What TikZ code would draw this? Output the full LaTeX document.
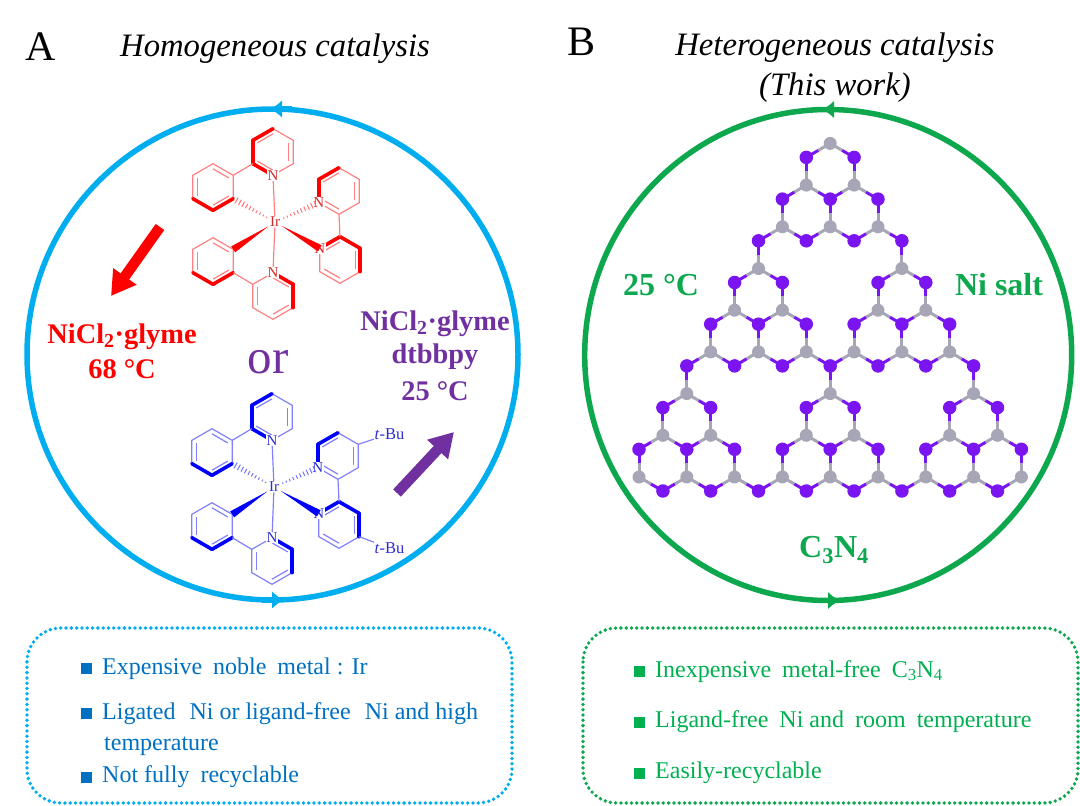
\documentclass[tikz,border=0pt]{standalone}
\usepackage{fontspec}
\setmainfont{Liberation Serif}
\usepackage{xcolor}
\usetikzlibrary{calc,arrows.meta,backgrounds}

\definecolor{ringblue}{HTML}{00AEEF}
\definecolor{ringgreen}{HTML}{0DA84E}
\definecolor{tipblue}{HTML}{0070C0}
\definecolor{tipgreen}{HTML}{00B050}
\definecolor{plum}{HTML}{7030A0}
\definecolor{catomgrey}{HTML}{A6A6B6}
\definecolor{natompurple}{HTML}{7A14F0}

\tikzset{
  bigring/.style={line width=5.5pt},
  ringtip/.style={line width=5.5pt,-{Latex[length=12pt,width=18pt]}},
  bigarrow/.style={line width=10.5pt,-{Triangle[length=24pt,width=27pt]}},
  tipbox/.style={line width=3.8pt,dash pattern=on 0pt off 5.3pt,line cap=round,rounded corners=34pt},
  tiptext/.style={anchor=base west,inner sep=0pt,font=\fontsize{24}{24}\selectfont},
  tipmark/.style={inner sep=0pt,minimum size=11pt},
  boldtext/.style={anchor=base,inner sep=0pt,font=\fontsize{28.4}{28.4}\selectfont\bfseries},
  greentext/.style={anchor=base,inner sep=0pt,text=ringgreen,font=\fontsize{32}{32}\selectfont\bfseries},
  titletext/.style={font=\fontsize{32.7}{32.7}\selectfont\itshape},
  lettertext/.style={font=\fontsize{42}{42}\selectfont},
  molline/.style={draw=mol!50,line width=1.2pt},
  molbold/.style={draw=mol,line width=3.6pt,line cap=round},
  molhash/.style={draw=mol!55,line width=1pt},
  mollabel/.style={fill=white,inner sep=.4pt,text=mol!65!gray,font=\fontsize{15}{15}\selectfont},
  catom/.style={circle,fill=catomgrey,inner sep=0pt,minimum size=13pt},
  natom/.style={circle,fill=natompurple,inner sep=0pt,minimum size=13.5pt},
  cbond/.style={draw=catomgrey,line width=3pt},
  nbond/.style={draw=natompurple,line width=3pt}
}

\newcommand{\hexring}[4]{
  \coordinate(#1) at #2;
  \coordinate(#1-1) at ($(#1)+(0,-23.3)$);
  \coordinate(#1-2) at ($(#1)+(20.2,-11.65)$);
  \coordinate(#1-3) at ($(#1)+(20.2,11.65)$);
  \coordinate(#1-4) at ($(#1)+(0,23.3)$);
  \coordinate(#1-5) at ($(#1)+(-20.2,11.65)$);
  \coordinate(#1-6) at ($(#1)+(-20.2,-11.65)$);
  \draw[molline] (#1-1) -- (#1-2) -- (#1-3) -- (#1-4) -- (#1-5) -- (#1-6) -- cycle;
  \foreach \a/\b in {#3} {
    \draw[molline] ($(#1)!.78!(#1-\a)$) -- ($(#1)!.78!(#1-\b)$);
  }
  \foreach \a/\b in {#4} {
    \draw[molbold] (#1-\a) -- (#1-\b);
  }
}
\newcommand{\wedgebond}[2]{
  \fill[mol] ($(#1)!8pt!(#2)$) -- ($(#2)!3.6pt!90:(#1)$) -- ($(#2)!3.6pt!-90:(#1)$) -- cycle;
}
\newcommand{\hashbond}[2]{
  \foreach \t in {.2,.28,...,.96} {
    \draw[molhash] ($(#1)!\t!(#2)!\t*3.6pt!90:(#2)$) -- ($(#1)!\t!(#2)!\t*3.6pt!-90:(#2)$);
  }
}
\newcommand{\ircomplex}[1]{
  \hexring{#1A}{(-2,-70)}{6/1,2/3,5/4}{5/6,6/1,5/4}
  \hexring{#1B}{(-62,-35)}{5/6,1/2,3/4}{5/4,4/3}
  \hexring{#1C}{(-62,39)}{5/6,1/2,3/4}{5/4,4/3}
  \hexring{#1D}{(-2,74)}{5/6,3/4,1/2}{1/2,2/3}
  \hexring{#1E}{(64,-31)}{6/1,2/3,4/5}{5/6,6/1}
  \hexring{#1F}{(65,38)}{6/1,2/3,4/5}{6/1,1/2,2/3}
  \draw[molline] (#1A-5) -- (#1B-2);
  \draw[molline] (#1C-3) -- (#1D-6);
  \draw[molline] (#1E-4) -- (#1F-1);
  \node[mollabel] (#1Ir) at (0,0) {Ir};
  \node[mollabel] (#1Na) at (#1A-4) {N};
  \node[mollabel] (#1Nd) at (#1D-1) {N};
  \node[mollabel] (#1Ne) at (#1E-5) {N};
  \node[mollabel] (#1Nf) at (#1F-6) {N};
  \draw[molline] (#1Ir) -- (#1Na);
  \draw[molline] (#1Ir) -- (#1Nd);
  \hashbond{#1Ir}{#1B-3}
  \hashbond{#1Ir}{#1Ne}
  \wedgebond{#1Ir}{#1C-2}
  \wedgebond{#1Ir}{#1Nf}
}
\newcommand{\halfbond}[2]{
  \ifcsname pgf@sh@ns@#2\endcsname
    \draw[cbond] (#1.center) -- ($(#1.center)!.5!(#2.center)$);
    \draw[nbond] (#2.center) -- ($(#1.center)!.5!(#2.center)$);
  \fi
}
\newcommand{\wgap}{\hspace{5pt}}
\newcommand{\widegap}{\hspace{8pt}}

\begin{document}
\begin{tikzpicture}[x=1pt,y=-1pt]

        \useasboundingbox (0,0) rectangle (1080,806);

        \coordinate(ringA) at (272.5,354.5);
        \coordinate(ringB) at (828.2,355);
        \draw[bigring,ringblue] (ringA) circle (245.5);
        \draw[bigring,ringgreen] (ringB) ellipse [x radius=243.5,y radius=245.5];

        \coordinate(topAr) at (292,109);
        \coordinate(topAl) at (270,109);
        \coordinate(botAl) at (262,600);
        \coordinate(botAr) at (284,600);
        \draw[ringtip,ringblue] (topAr) -- (topAl);
        \draw[ringtip,ringblue] (botAl) -- (botAr);
        \coordinate(topBr) at (844,109.5);
        \coordinate(topBl) at (822,109.5);
        \coordinate(botBl) at (818,600.5);
        \coordinate(botBr) at (840,600.5);
        \draw[ringtip,ringgreen] (topBr) -- (topBl);
        \draw[ringtip,ringgreen] (botBl) -- (botBr);

        \node[lettertext] (labelA) at (41,47) {A};
        \node[lettertext] (labelB) at (582,42) {B};
        \node[titletext] (titleA) at (275,49) {Homogeneous catalysis};
        \node[titletext] (titleB) at (835,48) {Heterogeneous catalysis};
        \node[titletext] (titleC) at (835,88) {(This work)};

        \begin{scope}[shift={(275,222)}]
        \colorlet{mol}{red}
        \ircomplex{r}
        \end{scope}

        \begin{scope}[shift={(274,487)}]
        \colorlet{mol}{blue}
        \ircomplex{b}
        \node[mollabel,anchor=west,font=\fontsize{16.5}{16.5}\selectfont] (buE) at (100,-53) {\textit{t}-Bu};
        \node[mollabel,anchor=west,font=\fontsize{16.5}{16.5}\selectfont] (buF) at (100,61) {\textit{t}-Bu};
        \draw[molline] (bE-2) -- (buE);
        \draw[molline] (bF-3) -- (buF);
        \end{scope}

        \coordinate(redS) at (160,227);
        \coordinate(redT) at (111,296);
        \draw[bigarrow,red] (redS) -- (redT);
        \coordinate(plumS) at (397,493);
        \coordinate(plumT) at (454,432);
        \draw[bigarrow,plum] (plumS) -- (plumT);

        \node[boldtext,red] (redA) at (122,343) {NiCl\textsubscript{2}·glyme};
        \node[boldtext,red] (redB) at (122,378) {68 °C};
        \node[boldtext,plum] (plumA) at (435,330) {NiCl\textsubscript{2}·glyme};
        \node[boldtext,plum] (plumB) at (435,363) {dtbbpy};
        \node[boldtext,plum] (plumC) at (435,400) {25 °C};
        \node[plum,anchor=base,inner sep=0pt,font=\fontsize{49}{49}\selectfont] (orText) at (268,373) {or};

        \node[greentext] (greenA) at (661,295) {25 °C};
        \node[greentext] (greenB) at (999,295) {Ni salt};
        \node[greentext] (greenC) at (834,557) {C\textsubscript{3}N\textsubscript{4}};

        \foreach \r/\cols in {0/{0,2,...,16},1/{1,3,7,9,13,15},2/{2,8,14},3/{3,5,...,13},4/{4,6,10,12},5/{5,11},6/{6,8,10},7/{7,9},8/{8}} {
          \foreach \i in \cols {
            \node[catom] (C\r-\i) at ({639+23.9*\i},{477-41.7*\r}) {};
          }
        }
        \foreach \r/\cols in {0/{1,3,...,15},1/{0,2,...,16},2/{1,3,7,9,13,15},3/{2,4,...,14},4/{3,5,...,13},5/{4,6,10,12},6/{5,7,9,11},7/{6,8,10},8/{7,9}} {
          \foreach \i in \cols {
            \node[natom] (N\r-\i) at ({639+23.9*\i},{491-41.7*\r}) {};
          }
        }
        \begin{scope}[on background layer]
        \foreach \r/\cols in {0/{0,2,...,16},1/{1,3,7,9,13,15},2/{2,8,14},3/{3,5,...,13},4/{4,6,10,12},5/{5,11},6/{6,8,10},7/{7,9},8/{8}} {
          \foreach \i in \cols {
            \pgfmathtruncatemacro{\il}{\i-1}
            \pgfmathtruncatemacro{\ir}{\i+1}
            \pgfmathtruncatemacro{\ru}{\r+1}
            \halfbond{C\r-\i}{N\r-\il}
            \halfbond{C\r-\i}{N\r-\ir}
            \halfbond{C\r-\i}{N\ru-\i}
          }
        }
        \end{scope}

        \draw[tipbox,ringblue] (27,628) rectangle (512,803);
        \draw[tipbox,ringgreen] (583,628) rectangle (1078,803);

        \node[tipmark,fill=tipblue] (markA) at (86.5,668) {};
        \node[tipmark,fill=tipblue] (markB) at (86.5,713) {};
        \node[tipmark,fill=tipblue] (markC) at (86.5,777) {};
        \node[tiptext,text=tipblue] (lineA) at (102,674) {Expensive\wgap{} noble\wgap{} metal : Ir};
        \node[tiptext,text=tipblue] (lineB) at (102,719) {Ligated\widegap{} Ni or ligand-free\widegap{} Ni and high};
        \node[tiptext,text=tipblue] (lineC) at (104,750) {temperature};
        \node[tiptext,text=tipblue] (lineD) at (102,782) {Not fully\wgap{} recyclable};

        \node[tipmark,fill=tipgreen] (markD) at (639,671) {};
        \node[tipmark,fill=tipgreen] (markE) at (639,722) {};
        \node[tipmark,fill=tipgreen] (markF) at (639,773) {};
        \node[tiptext,text=tipgreen] (lineE) at (655,677) {Inexpensive\wgap{} metal-free\wgap{} C\textsubscript{3}N\textsubscript{4}};
        \node[tiptext,text=tipgreen] (lineF) at (655,727) {Ligand-free\wgap{} Ni and\wgap{} room\wgap{} temperature};
        \node[tiptext,text=tipgreen] (lineG) at (655,778) {Easily-recyclable};

\end{tikzpicture}
\end{document}
